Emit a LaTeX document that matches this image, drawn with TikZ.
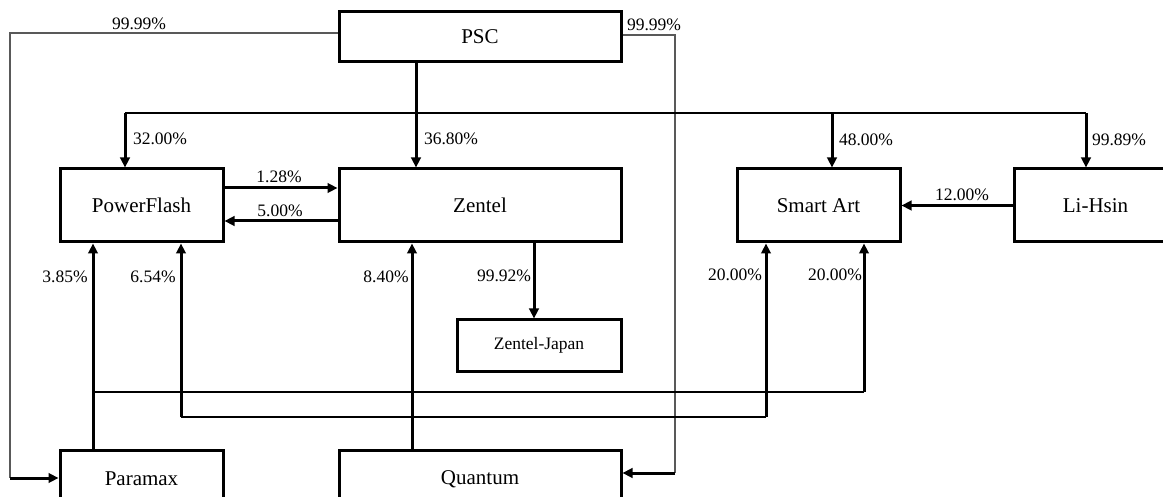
\documentclass[tikz,border=0pt]{standalone}
\usepackage{fontspec}
\setmainfont{Liberation Serif}
\usetikzlibrary{arrows.meta}

\begin{document}
\begin{tikzpicture}[x=1pt, y=-1pt,
  box/.style={rectangle, draw, line width=3pt, minimum width=163pt, minimum height=73pt, inner sep=0pt, font=\fontsize{21}{24}\selectfont},
  pct/.style={inner sep=0pt, font=\fontsize{17.5}{20}\selectfont},
  arr/.style={line width=3pt, -{Triangle[length=10pt,width=9.5pt]}},
  bus/.style={line width=1.3pt},
  side/.style={line width=1.3pt, draw=black!65}]
\useasboundingbox (0,0) rectangle (1163,497);
\clip (0,0) rectangle (1163,497);

\node[box, minimum width=282pt, minimum height=50pt] (PSC) at (480,37) {PSC};
\node[box] (PF) at (141.5,205.5) {PowerFlash};
\node[box, minimum width=282pt] (Zen) at (480,205.5) {Zentel};
\node[box] (SA) at (818.5,205.5) {Smart Art};
\node[box] (LH) at (1095.5,205.5) {Li-Hsin};
\node[box, minimum width=164pt, minimum height=51pt, font=\fontsize{17.5}{20}\selectfont] (ZJ) at (539,345.5) {Zentel-Japan};
\node[box, minimum height=58pt] (Para) at (141.5,479) {Paramax};
\node[box, minimum width=282pt, minimum height=58pt] (Quan) at (480,479) {Quantum};

\coordinate (pl) at (10,478);
\coordinate (pr) at (675,473);
\draw[side] ([yshift=4pt]PSC.west) -| (pl);
\draw[arr] (pl) -- (Para.west |- pl);
\draw[side] ([yshift=2pt]PSC.east) -| (pr);
\draw[arr] (pr) -- (Quan.east |- pr);
\draw[arr] ([xshift=-64pt]PSC.south) -- ([xshift=-64pt]Zen.north);

\coordinate (b1) at (125,113);
\coordinate (b2) at (832,113);
\coordinate (b3) at (1086,113);
\draw[bus] (b1) -- (b3);
\draw[arr] (b1) -- (b1 |- PF.north);
\draw[arr] (b2) -- (b2 |- SA.north);
\draw[arr] (b3) -- (b3 |- LH.north);

\draw[arr] ([yshift=17.5pt]PF.east) -- ([yshift=17.5pt]Zen.west);
\draw[arr] ([yshift=-15.5pt]Zen.west) -- ([yshift=-15.5pt]PF.east);
\draw[arr] (LH.west) -- (SA.east);
\draw[arr] ([xshift=54pt]Zen.south) -- ([xshift=-5pt]ZJ.north);
\draw[arr] ([xshift=-68pt]Quan.north) -- ([xshift=-68pt]Zen.south);
\draw[arr] ([xshift=-48.5pt]Para.north) -- ([xshift=-48.5pt]PF.south);

\coordinate (c1) at (93,392);
\coordinate (c2) at (864,392);
\draw[bus] (c1) -- (c2);
\draw[arr] (c2) -- (c2 |- SA.south);
\coordinate (d1) at (181,417);
\coordinate (d2) at (766,417);
\draw[bus] (d1) -- (d2);
\draw[arr] (d1) -- (d1 |- PF.south);
\draw[arr] (d2) -- (d2 |- SA.south);

\node[pct] (p1) at (139,24) {99.99\%};
\node[pct] (p2) at (654,25) {99.99\%};
\node[pct] (p3) at (160,139) {32.00\%};
\node[pct] (p4) at (451,139) {36.80\%};
\node[pct] (p5) at (866,140) {48.00\%};
\node[pct] (p6) at (1119,140) {99.89\%};
\node[pct] (p7) at (279,177) {1.28\%};
\node[pct] (p8) at (280,211) {5.00\%};
\node[pct] (p9) at (962,195) {12.00\%};
\node[pct] (p10) at (65,277) {3.85\%};
\node[pct] (p11) at (153,277) {6.54\%};
\node[pct] (p12) at (386,277) {8.40\%};
\node[pct] (p13) at (504,276) {99.92\%};
\node[pct] (p14) at (735,275) {20.00\%};
\node[pct] (p15) at (835,275) {20.00\%};
\end{tikzpicture}
\end{document}
